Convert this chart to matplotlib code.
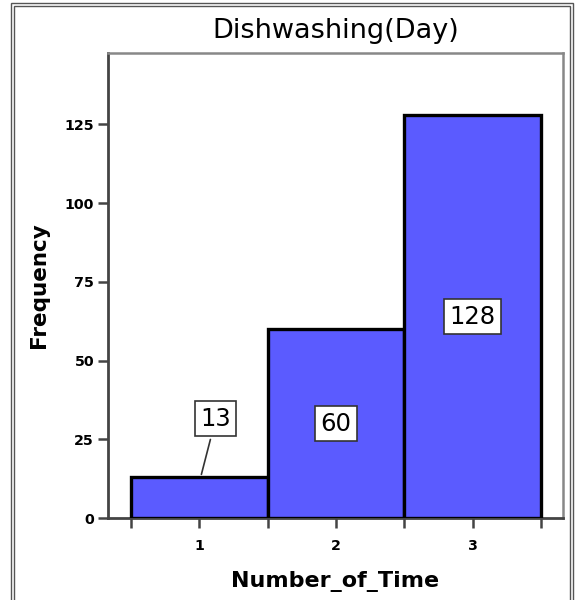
import matplotlib.pyplot as plt
from matplotlib.patches import Rectangle

plt.rcParams['font.family'] = ['DejaVu Sans']

# === DATA ===
CATEGORIES = [1, 2, 3]
FREQUENCIES = [13, 60, 128]
Y_TICKS = [0, 25, 50, 75, 100, 125]

BAR_COLOR = '#5b5bff'

fig = plt.figure(figsize=(5.78, 6.0), dpi=100)
ax = fig.add_axes([108 / 578, 1 - 518 / 600, (563 - 108) / 578, (518 - 53) / 600])

ax.bar(CATEGORIES, FREQUENCIES, width=1.0, color=BAR_COLOR,
       edgecolor='black', linewidth=2.4, zorder=3)

ax.set_xlim(0.332, 3.66)
ax.set_ylim(0, 147.7)

# ticks at bar edges and centres, labels only at centres
edges = [c - 0.5 for c in CATEGORIES] + [CATEGORIES[-1] + 0.5]
ax.set_xticks(edges + CATEGORIES)
ax.set_xticklabels([''] * len(edges) + [str(c) for c in CATEGORIES])
ax.set_yticks(Y_TICKS)
ax.set_yticklabels([str(t) for t in Y_TICKS])
ax.tick_params(axis='both', direction='out', length=7, width=1.8,
               colors='#444444', labelcolor='black', labelsize=10.3, pad=3)
ax.tick_params(axis='x', pad=8)
for lbl in ax.get_xticklabels() + ax.get_yticklabels():
    lbl.set_fontweight('bold')

for side in ['left', 'bottom']:
    ax.spines[side].set_color('#444444')
    ax.spines[side].set_linewidth(2.0)
for side in ['top', 'right']:
    ax.spines[side].set_color('#888888')
    ax.spines[side].set_linewidth(1.8)

ax.set_title('Dishwashing(Day)', fontsize=19.5, pad=11)
ax.set_xlabel('Number_of_Time', fontsize=16, fontweight='bold', labelpad=13)
ax.set_ylabel('Frequency', fontsize=15.5, fontweight='bold', labelpad=11)

# value labels
box = dict(boxstyle='square,pad=0.22', facecolor='white', edgecolor='#333333', linewidth=1.2)
for c, f in zip(CATEGORIES, FREQUENCIES):
    if f < 25:
        ax.annotate(str(f), xy=(c + 0.01, f), xytext=(c + 0.12, 31.5),
                    ha='center', va='center', fontsize=17.5, bbox=box, zorder=5,
                    arrowprops=dict(arrowstyle='-', color='#333333', lw=1.2))
    else:
        ax.text(c, f / 2, str(f), ha='center', va='center', fontsize=17.5,
                bbox=box, zorder=5)

# outer double border
W, H = 578, 600
for x0, y0, x1 in [(11, 3, 573), (14, 6, 570)]:
    fig.patches.append(Rectangle((x0 / W, -0.1), (x1 - x0) / W, 1.1 - y0 / H,
                                 transform=fig.transFigure, fill=False,
                                 edgecolor='#555555', linewidth=1.0))

fig.savefig('out.png', dpi=100)
